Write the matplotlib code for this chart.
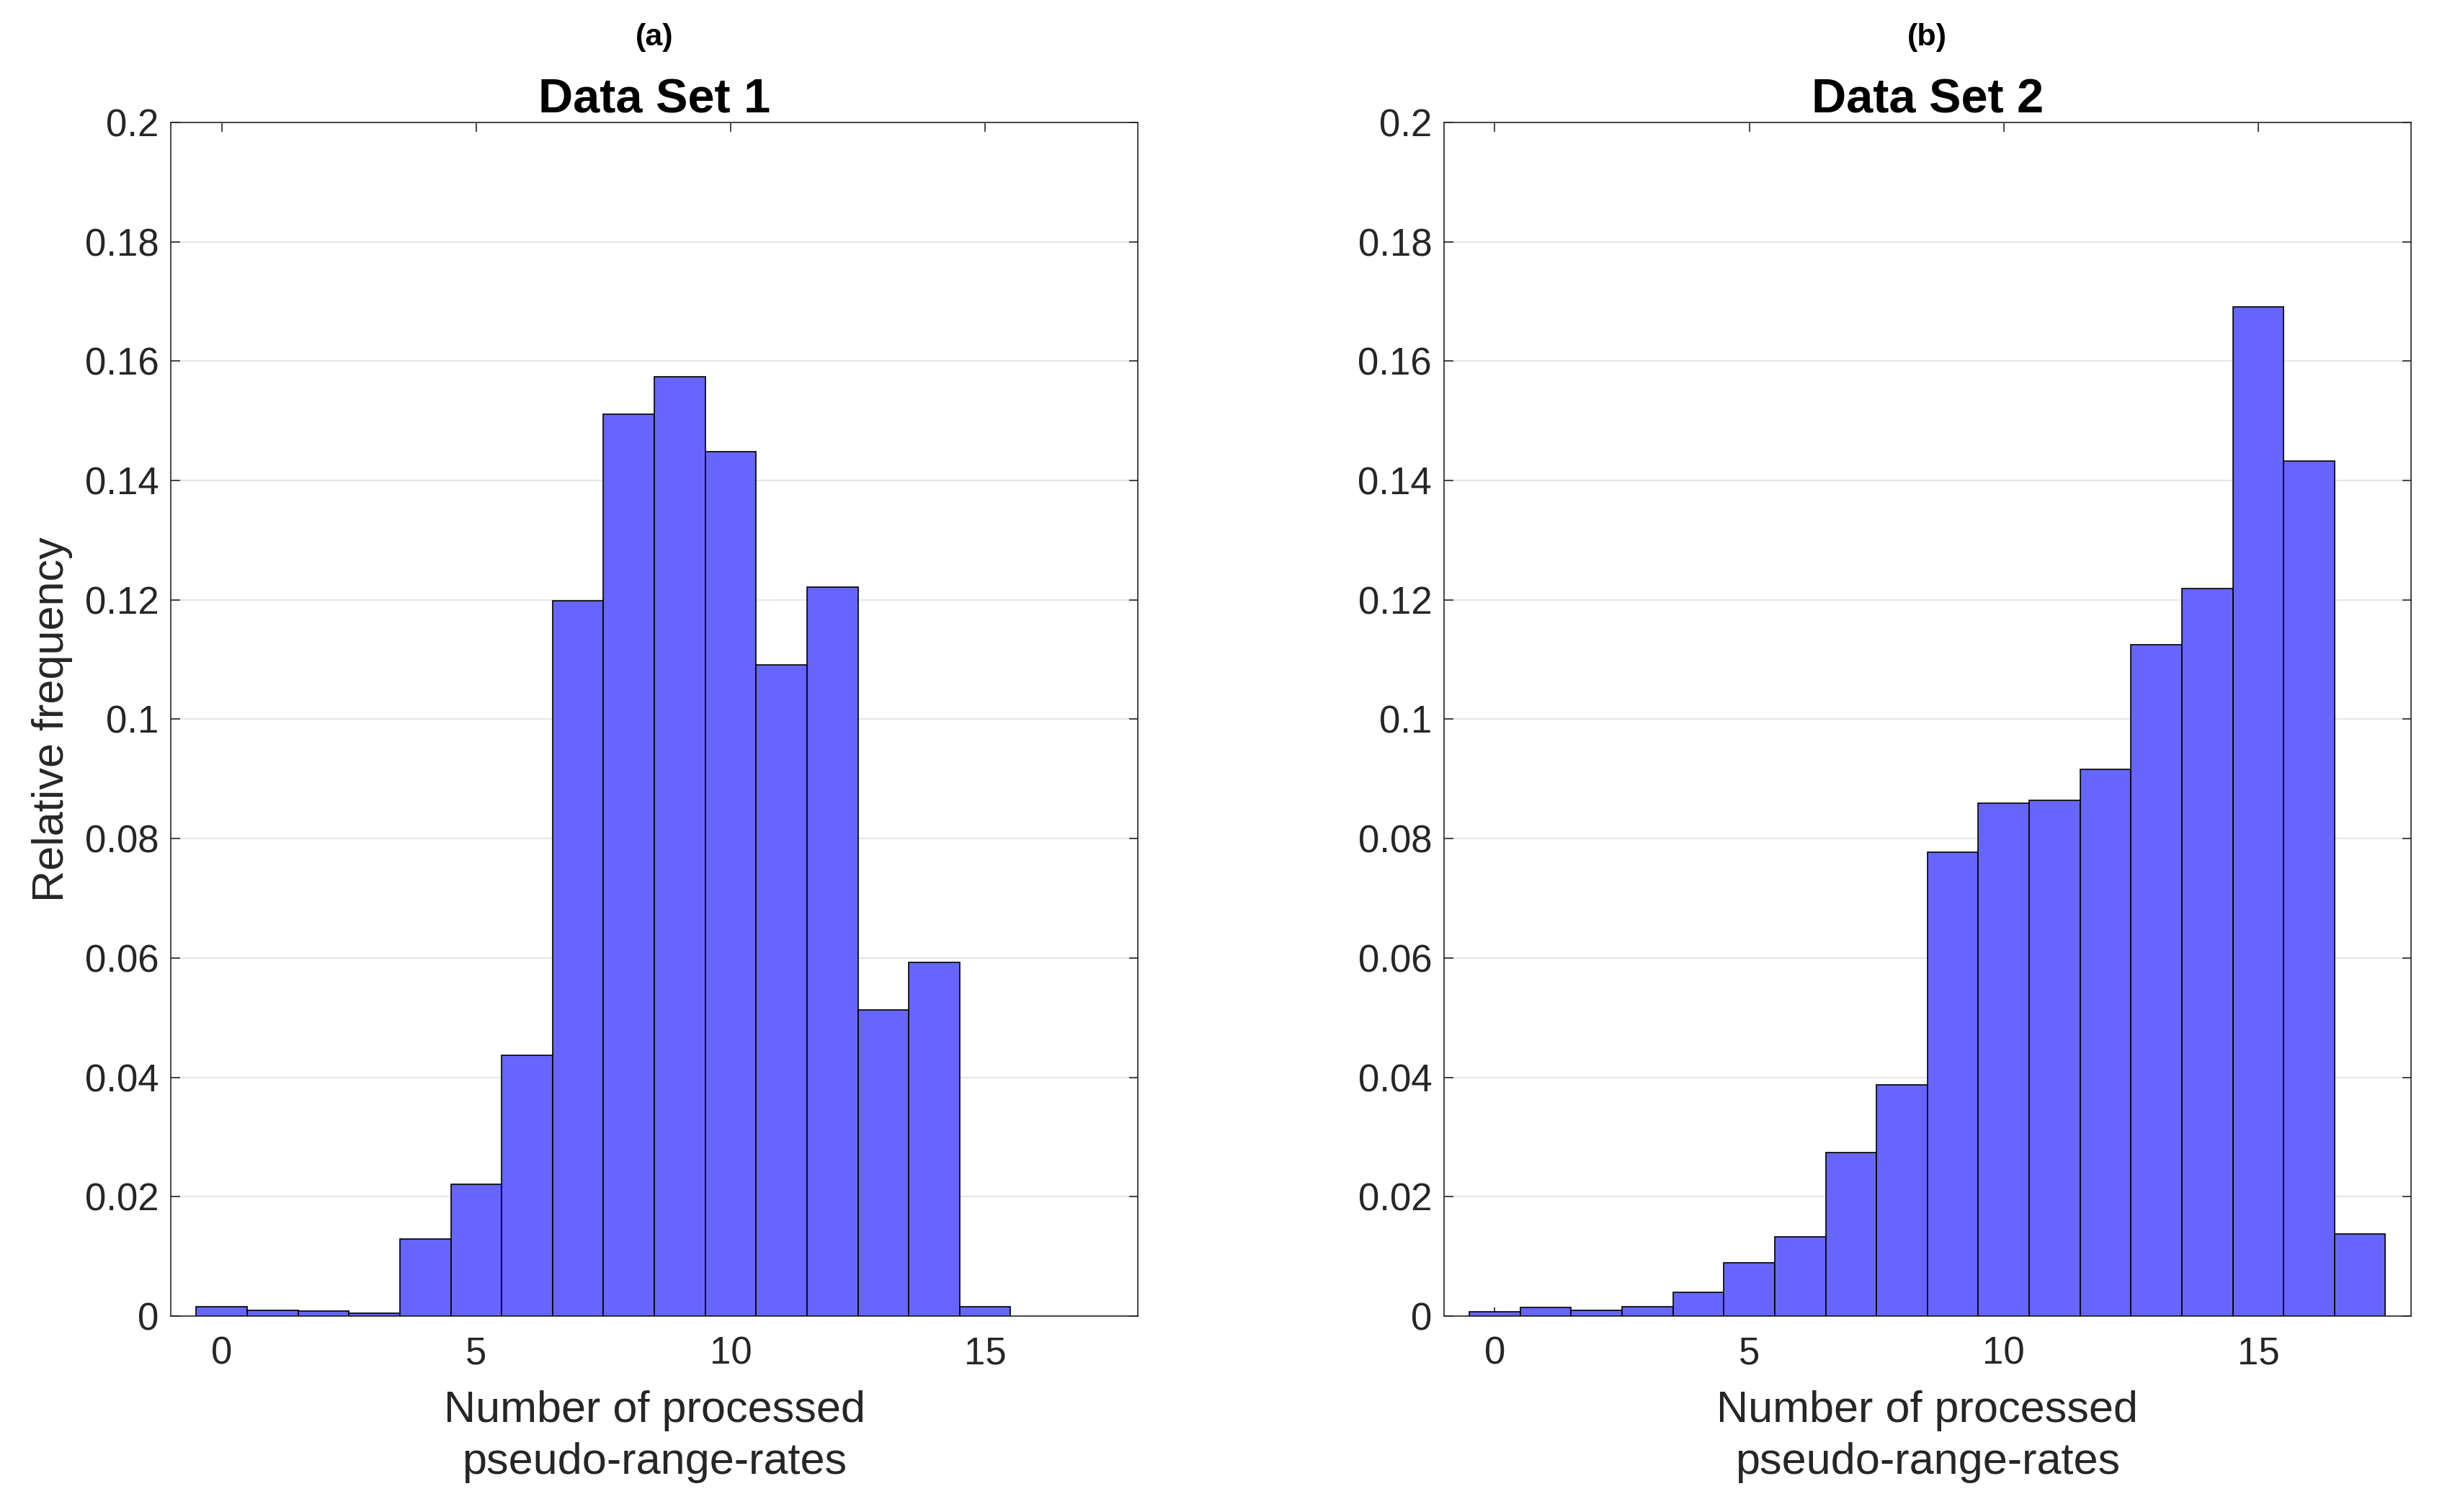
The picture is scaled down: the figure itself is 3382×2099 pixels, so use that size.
import matplotlib.pyplot as plt
import numpy as np

plt.rcParams["font.family"] = ["Liberation Sans", "DejaVu Sans"]

# relative frequency per number of processed pseudo-range-rates
counts_1 = np.arange(0, 16)
freq_1 = [0.0016, 0.0010, 0.0008, 0.0005, 0.0129, 0.0221, 0.0437, 0.1199,
          0.1511, 0.1574, 0.1449, 0.1091, 0.1221, 0.0513, 0.0593, 0.0016]

counts_2 = np.arange(0, 18)
freq_2 = [0.0007, 0.0015, 0.0010, 0.0016, 0.0040, 0.0089, 0.0133, 0.0274,
          0.0387, 0.0777, 0.0859, 0.0864, 0.0916, 0.1125, 0.1219, 0.1691,
          0.1433, 0.0138]

panel_tags = ["(a)", "(b)"]
titles = ["Data Set 1", "Data Set 2"]
y_ticks = np.arange(0, 0.201, 0.02)
y_tick_labels = ["0", "0.02", "0.04", "0.06", "0.08", "0.1", "0.12", "0.14",
                 "0.16", "0.18", "0.2"]
x_ticks = [0, 5, 10, 15]

axis_color = "#262626"

fig = plt.figure(figsize=(3382 / 200, 2099 / 200), dpi=200)
ax1 = fig.add_axes((0.0701, 0.1296, 0.3968, 0.7894))
ax2 = fig.add_axes((0.5925, 0.1296, 0.3968, 0.7894))

for ax, xs, ys, tag, title in zip((ax1, ax2), (counts_1, counts_2), (freq_1, freq_2),
                                   panel_tags, titles):
    ax.bar(xs, ys, width=1.0, color="#6666ff", edgecolor="black", linewidth=0.6, zorder=2)
    ax.set_xlim(-1, 18)
    ax.set_ylim(0, 0.2)
    ax.set_yticks(y_ticks)
    ax.set_yticklabels(y_tick_labels)
    ax.set_xticks(x_ticks)
    ax.grid(axis="y", color="#e6e6e6", linewidth=0.8, zorder=0)
    ax.set_axisbelow(True)
    ax.tick_params(direction="in", top=True, right=True, length=4.5, width=0.6,
                   color=axis_color, labelcolor=axis_color, labelsize=19)
    ax.tick_params(axis="y", pad=6)
    ax.tick_params(axis="x", pad=10)
    for spine in ax.spines.values():
        spine.set_color(axis_color)
        spine.set_linewidth(0.6)
    ax.set_xlabel("Number of processed\npseudo-range-rates", fontsize=22,
                  color=axis_color, labelpad=9, linespacing=1.35)
    ax.set_title(title, fontsize=24, fontweight="bold", pad=5)
    ax.text(0.5, 1.071, tag, transform=ax.transAxes, ha="center", va="center",
            fontsize=15.5, fontweight="bold")

ax1.set_ylabel("Relative frequency", fontsize=22, color=axis_color, labelpad=6)

fig.savefig("out.png", dpi=200)
